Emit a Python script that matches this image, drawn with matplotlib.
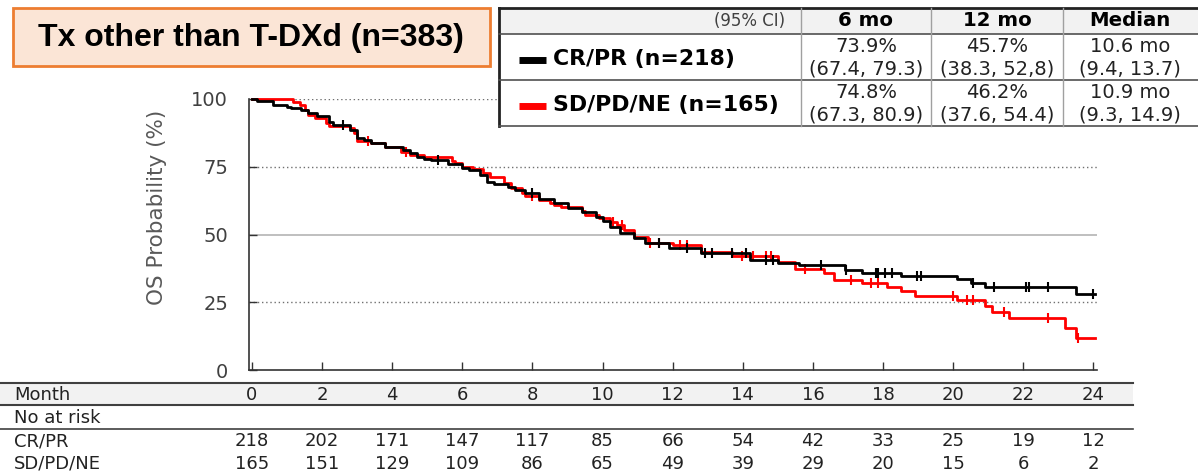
import matplotlib
matplotlib.use('Agg')
import matplotlib.pyplot as plt
import numpy as np
from matplotlib.patches import Rectangle
from matplotlib.lines import Line2D
from matplotlib.transforms import blended_transform_factory

W, H = 1198, 475

# Kaplan-Meier steps (month, OS % after the step)
cr_t = [0, 0.15, 0.6, 1.0, 1.1, 1.4, 1.6, 1.85, 2.2, 2.3, 2.8, 3.0, 3.2, 3.4, 3.8,
        4.3, 4.5, 4.7, 4.9, 5.1, 5.6, 6.0, 6.2, 6.5, 6.7, 6.9, 7.3, 7.5, 7.8, 8.2,
        8.6, 9.0, 9.4, 9.8, 10.0, 10.2, 10.5, 10.9, 11.2, 11.9, 12.8, 14.2, 15.0,
        15.6, 16.9, 17.4, 18.5, 20.1, 20.5, 20.9, 23.5]
cr_s = [100, 99.3, 97.8, 97.2, 96.6, 95.9, 94.7, 93.7, 91.6, 90.4, 88.6, 85.5, 84.9,
        83.6, 82.4, 81.2, 80.0, 78.7, 78.0, 77.5, 76.0, 74.4, 73.8, 72.0, 69.5, 68.6,
        67.6, 66.4, 65.2, 63.0, 61.5, 59.7, 58.4, 56.6, 54.8, 52.9, 50.4, 48.6, 47.0,
        44.9, 43.0, 40.6, 39.4, 38.7, 36.9, 35.9, 34.7, 33.4, 32.0, 30.5, 27.9]
cr_cens = [2.6, 5.3, 8.0, 11.6, 12.4, 12.93, 13.12, 13.7, 14.09, 14.67, 14.86, 16.22,
           16.94, 17.81, 17.86, 18.05, 18.25, 18.97, 19.07, 20.57, 21.15, 22.07,
           22.16, 22.7, 24.0]

sd_t = [0, 1.18, 1.37, 1.5, 1.6, 1.8, 2.1, 2.2, 2.8, 2.9, 3.0, 3.4, 3.8, 4.25, 4.5,
        4.9, 5.7, 5.8, 6.0, 6.3, 6.6, 6.8, 7.2, 7.4, 7.7, 7.8, 8.2, 8.5, 8.6, 8.8,
        9.4, 9.5, 9.9, 10.2, 10.4, 10.6, 10.9, 11.3, 12.0, 12.8, 13.7, 15.0, 15.5,
        16.3, 16.6, 17.4, 18.1, 18.5, 18.9, 20.1, 20.9, 21.1, 21.6, 23.2, 23.5]
sd_s = [100, 99.0, 97.8, 95.9, 94.1, 92.9, 91.0, 90.0, 89.2, 87.3, 84.5, 83.6, 82.4,
        80.6, 79.3, 78.7, 77.2, 76.2, 74.8, 74.0, 72.6, 71.3, 69.1, 67.0, 65.2, 64.2,
        62.7, 61.5, 60.9, 60.3, 58.5, 57.2, 56.0, 54.7, 53.5, 51.5, 49.2, 47.0, 46.1,
        43.7, 42.1, 40.0, 37.1, 35.7, 33.2, 32.0, 30.5, 29.2, 27.4, 25.8, 23.7, 21.5,
        19.1, 15.6, 11.7]
sd_cens = [3.3, 4.4, 8.0, 10.3, 10.55, 11.35, 11.6, 12.2, 12.4, 13.98, 14.28, 14.67,
           14.8, 15.78, 17.08, 17.66, 17.86, 19.99, 20.38, 20.57, 21.44, 22.7, 23.57]
t_end = 24.05

months = [0, 2, 4, 6, 8, 10, 12, 14, 16, 18, 20, 22, 24]
risk_cr = [218, 202, 171, 147, 117, 85, 66, 54, 42, 33, 25, 19, 12]
risk_sd = [165, 151, 129, 109, 86, 65, 49, 39, 29, 20, 15, 6, 2]

groups = ['CR/PR (n=218)', 'SD/PD/NE (n=165)']
stat_cols = ['6 mo', '12 mo', 'Median']
stats_cr = [('73.9%', '(67.4, 79.3)'), ('45.7%', '(38.3, 52,8)'), ('10.6 mo', '(9.4, 13.7)')]
stats_sd = [('74.8%', '(67.3, 80.9)'), ('46.2%', '(37.6, 54.4)'), ('10.9 mo', '(9.3, 14.9)')]


def px(x):
    return x / W


def py(y):
    return 1 - y / H


def step_at(t, s, c):
    i = np.searchsorted(t, c, side='right') - 1
    return s[i]


def draw_km(ax, t, s, cens, color):
    t = np.array(t + [t_end])
    s = np.array(s + [s[-1]])
    ax.step(t, s, where='post', color=color, lw=2, clip_on=False, zorder=3)
    cy = [step_at(t, s, c) for c in cens]
    ax.plot(cens, cy, ls='none', marker='|', ms=7, mew=1.5, color=color,
            clip_on=False, zorder=3)


fig = plt.figure(figsize=(W / 100, H / 100), dpi=100)
ax = fig.add_axes([px(249), py(370), px(1097 - 249), (370 - 99) / H])
ax.set_xlim(-0.085, 24.1)
ax.set_ylim(0, 100)

for g in [25, 75, 100]:
    ax.axhline(g, color='#707070', lw=1, ls=(0, (1, 2)), zorder=1)
ax.axhline(50, color='#b4b4b4', lw=1.2, zorder=1)

draw_km(ax, sd_t, sd_s, sd_cens, '#ff0000')
draw_km(ax, cr_t, cr_s, cr_cens, '#000000')

for side in ['top', 'right']:
    ax.spines[side].set_visible(False)
for side in ['left', 'bottom']:
    ax.spines[side].set_color('#333333')
    ax.spines[side].set_linewidth(1.2)
ax.set_xticks(months)
ax.set_xticklabels([])
ax.set_yticks([0, 25, 50, 75, 100])
ax.tick_params(direction='in', length=6, color='#333333', width=1)
ax.tick_params(axis='y', labelsize=14, labelcolor='#404040', pad=15)
fig.text(px(157), py(207), 'OS Probability (%)', rotation=90, ha='center', va='center',
         fontsize=15.5, color='#595959')

# number at risk table
trans = blended_transform_factory(ax.transData, fig.transFigure)
fig.add_artist(Rectangle((0, py(405)), px(1133), py(383) - py(405), transform=fig.transFigure,
                         facecolor='#f2f2f2', edgecolor='none', zorder=0))
for yl, lw in [(383, 1.5), (405, 1.5), (429, 1.2)]:
    fig.add_artist(Line2D([0, px(1133)], [py(yl), py(yl)], color='#404040', lw=lw))
fs = 13
fig.text(px(14), py(395), 'Month', fontsize=fs, va='center', color='#222222')
fig.text(px(14), py(418), 'No at risk', fontsize=fs, va='center', color='#222222')
fig.text(px(14), py(441), 'CR/PR', fontsize=fs, va='center', color='#222222')
fig.text(px(14), py(464), 'SD/PD/NE', fontsize=fs, va='center', color='#222222')
for m, a, b in zip(months, risk_cr, risk_sd):
    ax.text(m, py(395), str(m), transform=trans, ha='center', va='center', fontsize=fs,
            color='#222222', clip_on=False)
    ax.text(m, py(441), str(a), transform=trans, ha='center', va='center', fontsize=fs,
            color='#222222', clip_on=False)
    ax.text(m, py(464), str(b), transform=trans, ha='center', va='center', fontsize=fs,
            color='#222222', clip_on=False)

# title box
fig.add_artist(Rectangle((px(13), py(66)), px(490 - 13), py(8) - py(66), transform=fig.transFigure,
                         facecolor='#fbe5d6', edgecolor='#ed7d31', lw=2))
fig.text(px(251), py(38), 'Tx other than T-DXd (n=383)', ha='center', va='center',
         fontsize=23, fontweight='bold', family='Liberation Sans')

# summary table top right
fig.add_artist(Rectangle((px(499), py(126)), px(W - 499), py(8) - py(126), transform=fig.transFigure,
                         facecolor='white', edgecolor='none', zorder=4))
fig.add_artist(Rectangle((px(499), py(34)), px(W - 499), py(8) - py(34), transform=fig.transFigure,
                         facecolor='#f2f2f2', edgecolor='none', zorder=4))
fig.add_artist(Line2D([px(499), 1], [py(8), py(8)], color='#222222', lw=2, zorder=5))
fig.add_artist(Line2D([px(499), px(499)], [py(8), py(126)], color='#222222', lw=2, zorder=5))
for yl in [34, 80, 126]:
    fig.add_artist(Line2D([px(499), 1], [py(yl), py(yl)], color='#505050', lw=1.2, zorder=5))
for xl in [801, 931, 1063]:
    fig.add_artist(Line2D([px(xl), px(xl)], [py(8), py(126)], color='#a0a0a0', lw=1, zorder=5))

fig.text(px(785), py(21), '(95% CI)', ha='right', va='center', fontsize=12,
         color='#404040', zorder=6)
col_x = [866, 997, 1130]
for cx, name in zip(col_x, stat_cols):
    fig.text(px(cx), py(21), name, ha='center', va='center', fontsize=14.2,
             fontweight='bold', zorder=6)
for row_y, label, color, stats in [(57, groups[0], '#000000', stats_cr),
                                   (103, groups[1], '#ff0000', stats_sd)]:
    fig.add_artist(Line2D([px(519), px(546)], [py(row_y + 3)] * 2, color=color, lw=5,
                          solid_capstyle='butt', zorder=6))
    fig.text(px(553), py(row_y + 2), label, ha='left', va='center', fontsize=15.8,
             fontweight='bold', zorder=6)
    for cx, (v, ci) in zip(col_x, stats):
        fig.text(px(cx), py(row_y - 10), v, ha='center', va='center', fontsize=14,
                 color='#222222', zorder=6)
        fig.text(px(cx), py(row_y + 12), ci, ha='center', va='center', fontsize=14,
                 color='#222222', zorder=6)

fig.savefig('out.png', dpi=100)
